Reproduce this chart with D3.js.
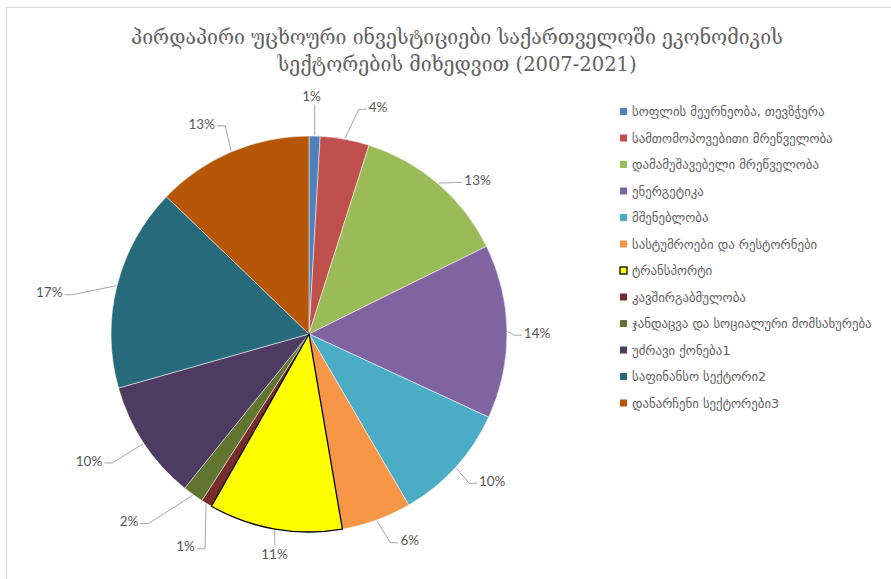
<!DOCTYPE html>
<html>
<head>
<meta charset="utf-8">
<script src="https://cdn.jsdelivr.net/npm/d3@7"></script>
<style>
  body { margin: 0; background: #fff; }
  .title { font-family: "DejaVu Serif", "DejaVu Sans", serif; fill: #626262; }
  .legend text { font-family: "DejaVu Sans", sans-serif; fill: #626262; }
  .lbl { font-family: Lato, "Liberation Sans", sans-serif; fill: #595959; font-size: 13.5px; }
</style>
</head>
<body>
<div id="chart"></div>
<script>
// sectors, in the order they go round the pie (clockwise from 12 o'clock)
var sectors = [
  "სოფლის მეურნეობა, თევზჭერა",
  "სამთომოპოვებითი მრეწველობა",
  "დამამუშავებელი მრეწველობა",
  "ენერგეტიკა",
  "მშენებლობა",
  "სასტუმროები და რესტორნები",
  "ტრანსპორტი",
  "კავშირგაბმულობა",
  "ჯანდაცვა და სოციალური მომსახურება",
  "უძრავი ქონება1",
  "საფინანსო სექტორი2",
  "დანარჩენი სექტორები3"
];
// share of FDI, percent
var shares = [0.9, 4.0, 12.8, 14.2, 9.7, 5.7, 10.9, 0.9, 1.7, 9.8, 16.6, 12.8];
var titleLines = [
  "პირდაპირი უცხოური ინვესტიციები საქართველოში ეკონომიკის",
  "სექტორების მიხედვით (2007-2021)"
];

var colors = ["#4F81BD", "#C0504D", "#9BBB59", "#8064A2", "#4BACC6", "#F79646",
              "#FFFF00", "#772C2A", "#5F7530", "#4D3B62", "#276A7C", "#B65708"];

// label placement tweaks (degrees off the slice middle, distance from centre)
var lblTurn = [-1, 6.5, 7, 0.5, -3.5, -6, -1, -1, 8, 3.5, -5, -4];
var lblDist = [238, 237, 228, 228, 235, 230, 223, 246, 260, 254, 263, 236];

var width = 891, height = 579;
var cx = 309, cy = 334, radius = 198;

var svg = d3.select("#chart").append("svg")
  .attr("width", width)
  .attr("height", height);

// chart frame
svg.append("rect")
  .attr("x", 6.5).attr("y", 7.5)
  .attr("width", width + 10).attr("height", height + 10)
  .attr("fill", "none")
  .attr("stroke", "#d9d9d9");

svg.selectAll("text.title")
  .data(titleLines)
  .enter().append("text")
  .attr("class", "title")
  .attr("x", 457)
  .attr("y", function(d, i){return 44 + i*27})
  .attr("text-anchor", "middle")
  .attr("font-size", "19.5px")
  .text(function(d){return d});

var data = sectors.map(function(s, i){return {name: s, value: shares[i], i: i}});

var pie = d3.pie().sort(null).value(function(d){return d.value});
var arc = d3.arc().innerRadius(0).outerRadius(radius);
var arcs = pie(data);

var g = svg.append("g").attr("transform", "translate(" + cx + "," + cy + ")");

g.selectAll("path.slice")
  .data(arcs)
  .enter().append("path")
  .attr("class", "slice")
  .attr("d", arc)
  .attr("fill", function(d){return colors[d.data.i]})
  .attr("stroke", function(d){return d.data.i == 6 ? "#000" : "#fff"})
  .attr("stroke-width", function(d){return d.data.i == 6 ? 1.3 : 0.5});
// put the outlined yellow slice on top so its border is whole
g.selectAll("path.slice").filter(function(d){return d.data.i == 6}).raise();

// labels + leader lines
var fmt = function(v){return Math.round(v) + "%"};
arcs.forEach(function(d, k) {
  var mid = (d.startAngle + d.endAngle) / 2;
  var a = mid + lblTurn[k] * Math.PI / 180;
  var lx = lblDist[k] * Math.sin(a), ly = -lblDist[k] * Math.cos(a);
  var t = g.append("text")
    .attr("class", "lbl")
    .attr("x", lx).attr("y", ly)
    .attr("text-anchor", "middle")
    .attr("dy", "0.35em")
    .text(fmt(d.data.value));
  var bb = t.node().getBBox();
  var ax = (radius + 1) * Math.sin(mid), ay = -(radius + 1) * Math.cos(mid);
  var pts;
  if (Math.abs(lx - ax) < bb.width / 2) {
    // straight up/down to the label
    var ey = ly < ay ? bb.y + bb.height + 1 : bb.y - 1;
    pts = [[ax, ay], [ax, ey]];
  } else {
    var bx = lx > ax ? bb.x - 2 : bb.x + bb.width + 2;
    var by = ly + 2;
    var kx = lx > ax ? bx - 8 : bx + 8;
    pts = [[ax, ay], [kx, by], [bx, by]];
  }
  g.append("path")
    .attr("d", d3.line()(pts))
    .attr("fill", "none")
    .attr("stroke", "#a6a6a6")
    .attr("stroke-width", 1);
});

// legend
var leg = svg.append("g").attr("class", "legend")
  .attr("transform", "translate(620,112)");
var item = leg.selectAll("g")
  .data(data)
  .enter().append("g")
  .attr("transform", function(d, i){return "translate(0," + (i * 26.5) + ")"});
item.append("rect")
  .attr("x", 0).attr("y", -4)
  .attr("width", 7).attr("height", 7)
  .attr("fill", function(d){return colors[d.i]})
  .attr("stroke", function(d){return d.i == 6 ? "#000" : "none"})
  .attr("stroke-width", 1.3);
item.append("text")
  .attr("x", 12)
  .attr("y", 0)
  .attr("dy", "0.35em")
  .attr("font-size", "12.8px")
  .text(function(d){return d.name});
</script>
</body>
</html>
